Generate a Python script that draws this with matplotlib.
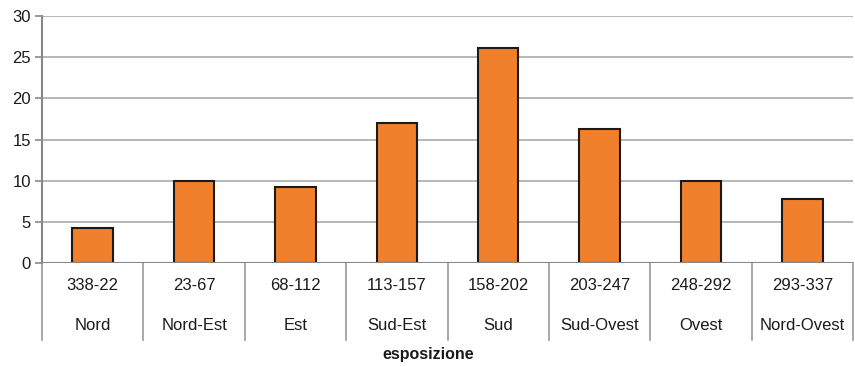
import matplotlib
matplotlib.use("Agg")
import matplotlib.pyplot as plt
import matplotlib.transforms as mtrans

plt.rcParams['font.family'] = ['Liberation Sans', 'DejaVu Sans']

ranges = ["338-22", "23-67", "68-112", "113-157", "158-202", "203-247", "248-292", "293-337"]
names = ["Nord", "Nord-Est", "Est", "Sud-Est", "Sud", "Sud-Ovest", "Ovest", "Nord-Ovest"]
values = [4.25, 9.9, 9.2, 17.0, 26.1, 16.3, 9.9, 7.8]
yticks = [0, 5, 10, 15, 20, 25, 30]
xlabel = "esposizione"

W, H = 855, 367
fig = plt.figure(figsize=(W / 100, H / 100), dpi=100)
left, right, top, bottom = 42, 853, 16, 263
ax = fig.add_axes([left / W, 1 - bottom / H, (right - left) / W, (bottom - top) / H])

x = list(range(len(values)))
ax.bar(x, values, width=0.4, color="#F0802C", edgecolor="#1a1a1a", linewidth=1.5, zorder=3)
ax.set_xlim(-0.5, len(values) - 0.5)
ax.set_ylim(0, 30)
ax.set_yticks(yticks)
ax.yaxis.grid(True, color="#aaaaaa", linewidth=1.2, zorder=0)
ax.set_xticks([])
for s in ["top", "right", "bottom"]:
    ax.spines[s].set_visible(False)
ax.spines["left"].set_color("#888888")
ax.spines["left"].set_linewidth(1.5)
ax.tick_params(axis="y", length=5, width=1.2, color="#888888", labelsize=12, pad=3)
for lab in ax.get_yticklabels():
    lab.set_color("#1a1a1a")

ax.axhline(0, color="#888888", linewidth=1.5, zorder=4)

trans = mtrans.blended_transform_factory(ax.transData, ax.transAxes)
ybot = -(340 - bottom) / (bottom - top)
for i in range(len(values) + 1):
    ax.plot([i - 0.5, i - 0.5], [0, ybot], transform=trans, color="#999999",
            linewidth=1.2, clip_on=False)

y1 = -(286 - bottom) / (bottom - top)
y2 = -(326 - bottom) / (bottom - top)
for i, (r, n) in enumerate(zip(ranges, names)):
    ax.text(i, y1, r, transform=trans, ha="center", va="center", fontsize=12, color="#1a1a1a")
    ax.text(i, y2, n, transform=trans, ha="center", va="center", fontsize=12, color="#1a1a1a")

fig.text(428 / W, 1 - 354 / H, xlabel, ha="center", va="center",
         fontsize=11.5, fontweight="bold", color="#1a1a1a")

fig.savefig("out.png", dpi=100)
